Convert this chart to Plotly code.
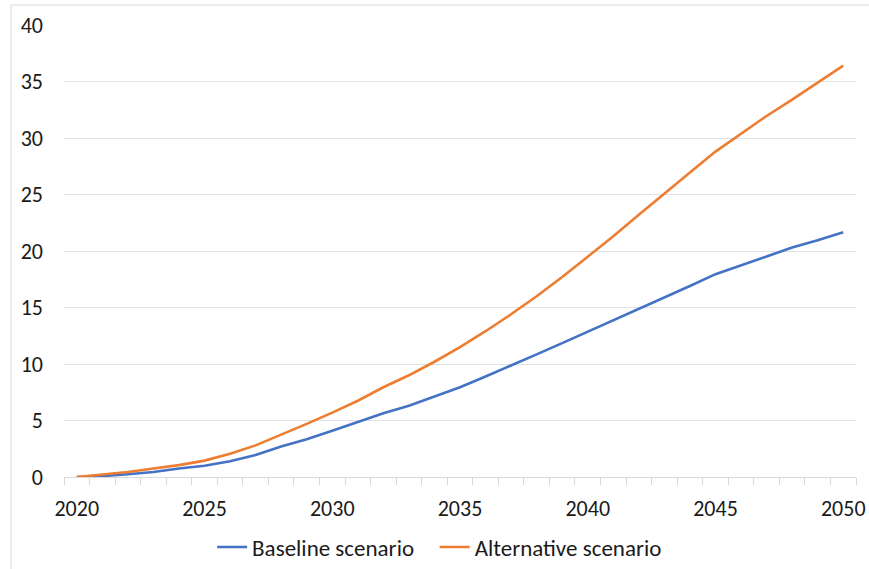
import plotly.graph_objects as go

years = list(range(2020, 2051))
baseline = [0, 0.08, 0.25, 0.45, 0.75, 1.0, 1.4, 1.95, 2.7, 3.35, 4.1, 4.85, 5.65, 6.3, 7.1,
            7.95, 8.9, 9.85, 10.85, 11.85, 12.85, 13.85, 14.9, 15.9, 16.9, 17.95, 18.75,
            19.55, 20.3, 20.95, 21.65]
alternative = [0, 0.2, 0.45, 0.75, 1.05, 1.45, 2.05, 2.8, 3.72, 4.7, 5.7, 6.75, 7.94, 9.0,
               10.2, 11.5, 12.9, 14.4, 16.0, 17.7, 19.5, 21.3, 23.2, 25.1, 26.95, 28.8,
               30.4, 31.95, 33.4, 34.9, 36.4]
x_ticks = [2020, 2025, 2030, 2035, 2040, 2045, 2050]
y_ticks = [0, 5, 10, 15, 20, 25, 30, 35, 40]

FONT = "Carlito, Calibri, Lato, sans-serif"

fig = go.Figure()
fig.add_trace(go.Scatter(x=years, y=baseline, mode="lines", name="Baseline scenario",
                         line=dict(color="#4472C4", width=2.6), legend="legend"))
fig.add_trace(go.Scatter(x=years, y=alternative, mode="lines", name="Alternative scenario",
                         line=dict(color="#ED7D31", width=2.6), legend="legend2"))

leg_common = dict(orientation="h", xanchor="left", y=-0.155, yanchor="middle",
                  font=dict(size=23), itemwidth=30, bgcolor="rgba(0,0,0,0)")

fig.update_layout(
    width=869, height=569,
    margin=dict(l=64, r=13, t=25, b=92, autoexpand=False),
    paper_bgcolor="white", plot_bgcolor="white",
    font=dict(family=FONT, size=22, color="#1a1a1a"),
    showlegend=True,
    legend=dict(x=0.187, **leg_common),
    legend2=dict(x=0.468, **leg_common),
    shapes=[dict(type="rect", xref="paper", yref="paper", x0=-0.0669, x1=1.2,
                 y0=-0.5, y1=1.0442, line=dict(color="#d9d9d9", width=1), layer="below")],
)
fig.update_xaxes(range=[2019.5, 2050.5], tickmode="array", tickvals=x_ticks,
                 ticks="", showgrid=False, showline=True, linecolor="#d9d9d9", linewidth=1,
                 ticklabelstandoff=12, automargin=False,
                 minor=dict(tick0=2019.5, dtick=1, ticks="outside", ticklen=7,
                            tickcolor="#d9d9d9", showgrid=False),
                 zeroline=False)
fig.update_yaxes(range=[0, 40], tickmode="array", tickvals=y_ticks, showgrid=True,
                 gridcolor="#e1e1e8", gridwidth=1, zeroline=False, showline=False,
                 ticks="", ticklabelstandoff=20, automargin=False)

fig.write_html("out.html", config={"displayModeBar": False},
               post_script="document.body.style.margin='0';document.body.style.padding='0';")
